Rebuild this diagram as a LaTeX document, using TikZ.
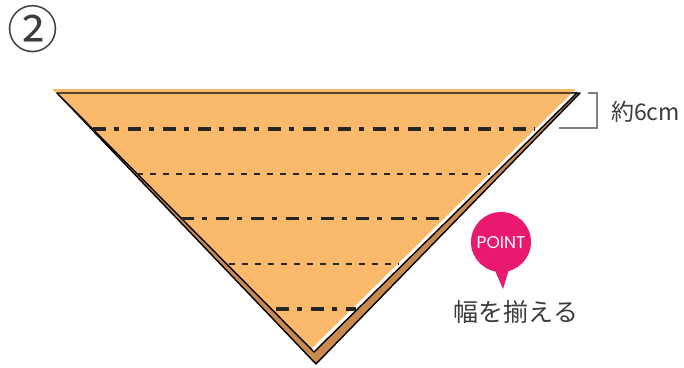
\documentclass[tikz,border=0pt]{standalone}
\usepackage{fontspec}
\newfontfamily\jpfont{Noto Sans CJK JP}
\newfontfamily\pointfont{Poppins}
\usetikzlibrary{calc}
\definecolor{clothorange}{HTML}{FBB96B}
\definecolor{clothbrown}{HTML}{C98A4F}
\definecolor{pointpink}{HTML}{E8196E}
\definecolor{textgray}{HTML}{3C3C3C}
\begin{document}
\begin{tikzpicture}[x=1pt, y=-1pt,
    fold/.style={black, line width=1.4pt, line join=round},
    dashdot/.style={black!85, line width=3.2pt, dash pattern=on 13pt off 8pt on 5pt off 9pt},
    dashthin/.style={black!85, line width=1.3pt, dash pattern=on 6pt off 7pt},
    bracket/.style={black!50, line width=1.1pt},
    jplabel/.style={text=textgray, inner sep=0pt}]
    \useasboundingbox (0,0) rectangle (684,367);
    % step number
    \node[jplabel, font=\jpfont\fontsize{51}{55}\selectfont] (stepnum) at (33,29) {②};
    % back layer of the cloth
    \coordinate (backL) at (57,93);
    \coordinate (backR) at (580,93);
    \coordinate (backB) at (316,364);
    % front layer of the cloth
    \coordinate (frontL) at (57,93);
    \coordinate (frontR) at (577,93);
    \coordinate (frontB) at (314,352);
    \filldraw[fold, fill=clothbrown] (backL) -- (backR) -- (backB) -- cycle;
    \fill[white] (frontL) -- (frontR) -- (frontB) -- cycle;
    \fill[clothorange] (52,89) -- (576,89) -- (311,349) -- cycle;
    \draw[fold] (frontR) -- (frontL) -- (frontB) -- cycle;
    % fold lines
    \draw[dashdot] ($(frontL)!0.139!(frontB)$) -- ($(frontR)!0.139!(frontB)+(-5,0)$);
    \draw[dashthin] ($(frontL)!0.313!(frontB)$) -- ($(frontR)!0.313!(frontB)+(-5,0)$);
    \draw[dashdot] ($(frontL)!0.483!(frontB)$) -- ($(frontR)!0.483!(frontB)+(-5,0)$);
    \draw[dashthin] ($(frontL)!0.66!(frontB)+(2,0)$) -- ($(frontR)!0.66!(frontB)+(-5,0)$);
    \draw[dashdot] ($(frontL)!0.834!(frontB)+(5,0)$) -- ($(frontR)!0.834!(frontB)+(-2,0)$);
    % width mark
    \draw[bracket] (588,93) -- (597,93) -- (597,128) -- (559,128);
    \node[jplabel, anchor=west, font=\jpfont\fontsize{23}{27}\selectfont] (widthnote) at (611,112) {約6cm};
    % point bubble
    \fill[pointpink] (501,242) circle (30);
    \fill[pointpink] (493,266) -- (510,266) -- (503,289) -- cycle;
    \node[text=white, inner sep=0pt, font=\pointfont\fontsize{17}{20}\selectfont] (pointtag) at (501,243) {POINT};
    \node[jplabel, font=\jpfont\fontsize{25}{29}\selectfont] (aligntext) at (516,312) {幅を揃える};
\end{tikzpicture}
\end{document}
